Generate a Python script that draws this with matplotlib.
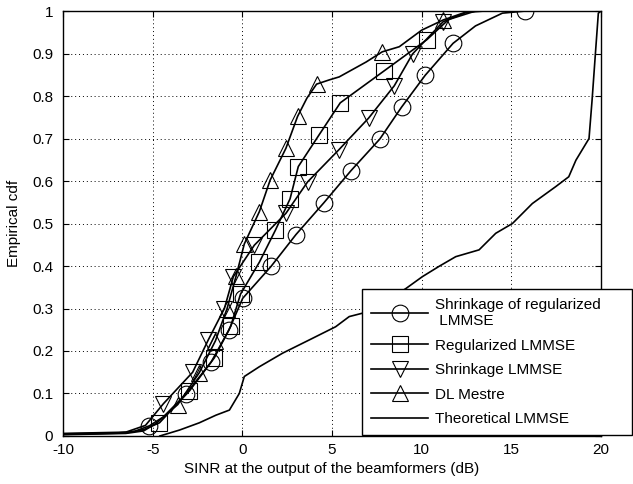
import numpy as np
import matplotlib
matplotlib.use("Agg")
import matplotlib.pyplot as plt
from matplotlib.lines import Line2D

plt.rcParams['font.family'] = ['Liberation Sans', 'DejaVu Sans']
plt.rcParams['font.size'] = 11
plt.rcParams['axes.unicode_minus'] = False

# empirical cdf curves (SINR in dB, cdf value)
shr_reg_x = [-10, -7, -6, -5.18, -4.4, -3.14, -1.74, -0.75, 0.02, 1.6, 2.99, 4.55, 6.05, 7.67, 8.88, 10.2, 11.75, 13.0, 14.5, 15.77]
shr_reg_y = [0.005, 0.007, 0.011, 0.024, 0.045, 0.099, 0.174, 0.249, 0.324, 0.399, 0.474, 0.549, 0.624, 0.699, 0.774, 0.849, 0.924, 0.965, 0.995, 1.0]
shr_reg_mx = [-5.18, -3.14, -1.74, -0.75, 0.02, 1.6, 2.99, 4.55, 6.05, 7.67, 8.88, 10.2, 11.75, 15.77]
shr_reg_my = [0.024, 0.099, 0.174, 0.249, 0.324, 0.399, 0.474, 0.549, 0.624, 0.699, 0.774, 0.849, 0.924, 1.0]

reg_x = [-10, -6.5, -5.5, -4.62, -2.95, -1.56, -0.65, -0.1, 0.95, 1.84, 2.66, 3.12, 4.27, 5.46, 7.9, 10.3, 11.5, 13.0]
reg_y = [0.004, 0.007, 0.015, 0.031, 0.106, 0.184, 0.258, 0.334, 0.409, 0.484, 0.558, 0.634, 0.708, 0.784, 0.859, 0.933, 0.98, 1.0]
reg_mx = [-4.62, -2.95, -1.56, -0.65, -0.1, 0.95, 1.84, 2.66, 3.12, 4.27, 5.46, 7.9, 10.3]
reg_my = [0.031, 0.106, 0.184, 0.258, 0.334, 0.409, 0.484, 0.558, 0.634, 0.708, 0.784, 0.859, 0.933]

shr_x = [-10, -6.5, -5.4, -4.4, -2.77, -1.9, -1.0, -0.5, 0.67, 2.43, 3.64, 5.37, 7.04, 8.47, 9.49, 11.2, 12.5, 13.5]
shr_y = [0.006, 0.009, 0.025, 0.076, 0.150, 0.226, 0.300, 0.375, 0.449, 0.524, 0.598, 0.673, 0.748, 0.824, 0.899, 0.975, 0.997, 1.0]
shr_mx = [-4.4, -2.77, -1.9, -1.0, -0.5, 0.67, 2.43, 3.64, 5.37, 7.04, 8.47, 9.49, 11.2]
shr_my = [0.076, 0.150, 0.226, 0.300, 0.375, 0.449, 0.524, 0.598, 0.673, 0.748, 0.824, 0.899, 0.975]

dl_x = [-10, -6.5, -5.5, -4.8, -3.6, -2.4, -1.5, -0.85, -0.35, 0.11, 0.95, 1.55, 2.43, 3.08, 3.6, 4.14, 4.85, 5.4, 6.9, 7.8, 8.75, 10.0, 11.2, 12.5, 13.0]
dl_y = [0.003, 0.006, 0.012, 0.03, 0.074, 0.149, 0.224, 0.300, 0.376, 0.452, 0.528, 0.602, 0.677, 0.752, 0.795, 0.828, 0.838, 0.845, 0.88, 0.904, 0.916, 0.955, 0.979, 0.998, 1.0]
dl_mx = [-3.6, -2.4, -1.5, -0.85, -0.35, 0.11, 0.95, 1.55, 2.43, 3.08, 4.14, 7.8, 11.2]
dl_my = [0.074, 0.149, 0.224, 0.300, 0.376, 0.452, 0.528, 0.602, 0.677, 0.752, 0.828, 0.904, 0.979]

theo_x = [-4.6, -3.5, -2.4, -1.47, -0.72, -0.17, 0.11, 0.95, 2.25, 3.73, 5.2, 5.96, 6.7, 8.2, 9.12, 10.04, 11.0, 11.9, 13.2, 14.13, 15.06, 16.17, 17.48, 18.2, 18.6, 19.33, 19.5, 19.7, 19.85, 20.0]
theo_y = [0.0, 0.014, 0.031, 0.049, 0.061, 0.10, 0.14, 0.163, 0.195, 0.226, 0.257, 0.281, 0.289, 0.322, 0.347, 0.375, 0.40, 0.422, 0.438, 0.477, 0.50, 0.547, 0.587, 0.61, 0.649, 0.70, 0.79, 0.908, 0.995, 1.0]

labels = ['Shrinkage of regularized\n LMMSE', 'Regularized LMMSE', 'Shrinkage LMMSE',
          'DL Mestre', 'Theoretical LMMSE']
xticks = [-10, -5, 0, 5, 10, 15, 20]
yticks = [0, 0.1, 0.2, 0.3, 0.4, 0.5, 0.6, 0.7, 0.8, 0.9, 1]
ytick_labels = ['0', '0.1', '0.2', '0.3', '0.4', '0.5', '0.6', '0.7', '0.8', '0.9', '1']

fig = plt.figure(figsize=(6.33, 4.84), dpi=100)
ax = fig.add_axes([0.0995, 0.0992, 0.850, 0.878])

lw = 1.2
ms = 12
curves = [(shr_reg_x, shr_reg_y, shr_reg_mx, shr_reg_my, 'o'),
          (reg_x, reg_y, reg_mx, reg_my, 's'),
          (shr_x, shr_y, shr_mx, shr_my, 'v'),
          (dl_x, dl_y, dl_mx, dl_my, '^')]
handles = []
for cx, cy, mx, my, mk in curves:
    ax.plot(cx, cy, color='black', lw=lw, zorder=3)
    ax.plot(mx, my, linestyle='none', marker=mk, ms=ms, mfc='none',
            mec='black', mew=0.8, zorder=4)
    handles.append(Line2D([], [], color='black', lw=lw, marker=mk, ms=ms,
                          mfc='none', mec='black', mew=0.8))
ax.plot(theo_x, theo_y, color='black', lw=lw, zorder=3)
handles.append(Line2D([], [], color='black', lw=lw))

ax.set_xlim(-10, 20)
ax.set_ylim(0, 1)
ax.set_xticks(xticks)
ax.set_yticks(yticks)
ax.set_yticklabels(ytick_labels)
ax.tick_params(direction='in', top=True, right=True, length=4, width=0.8, labelsize=11)
ax.tick_params(axis='x', pad=5)
ax.tick_params(axis='y', pad=7)
ax.grid(True, color='black', linestyle=(0, (1, 3)), linewidth=0.7)
for s in ax.spines.values():
    s.set_linewidth(1.0)

ax.set_xlabel('SINR at the output of the beamformers (dB)', labelpad=4)
ax.set_ylabel('Empirical cdf', labelpad=8)

leg = ax.legend(handles, labels, loc='lower left',
                bbox_to_anchor=(0.556, 0.002, 0.502, 0.34), mode='expand',
                numpoints=1, handlelength=3.7, handletextpad=0.45, labelspacing=0.68,
                borderpad=0.6, borderaxespad=0, fancybox=False, framealpha=1,
                edgecolor='black', fontsize=11)
leg.get_frame().set_linewidth(1.0)
leg.set_zorder(10)

fig.savefig('out.png', dpi=100)
